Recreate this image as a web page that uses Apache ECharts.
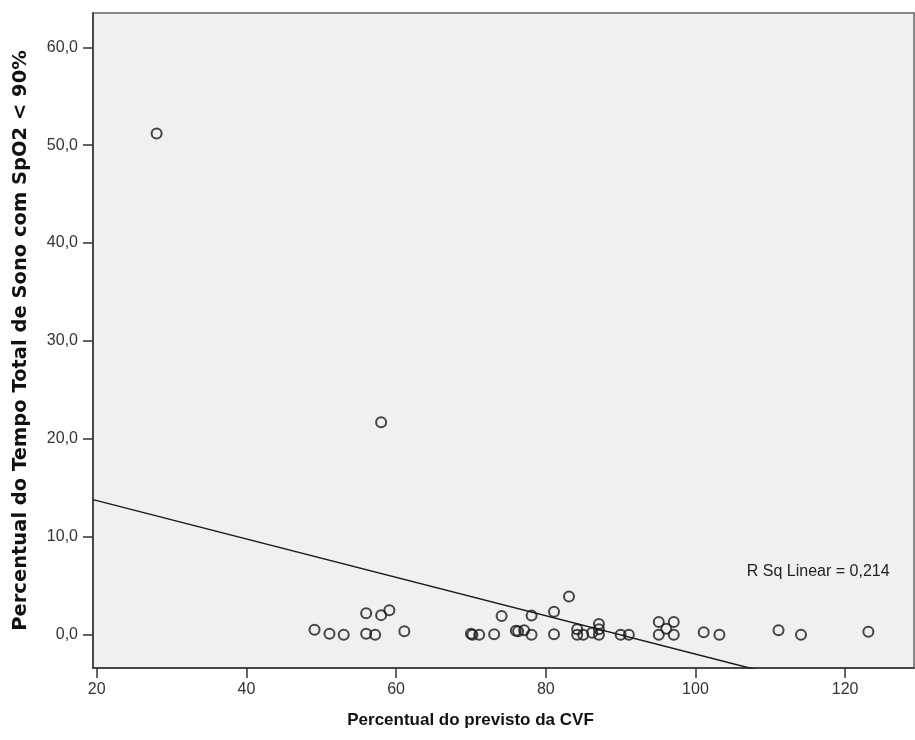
<!DOCTYPE html>
<html>
<head>
<meta charset="utf-8">
<script src="https://cdn.jsdelivr.net/npm/echarts@6/dist/echarts.min.js"></script>
<style>
  html, body { margin: 0; padding: 0; background: #ffffff; }
  #chart { width: 915px; height: 740px; }
</style>
</head>
<body>
<div id="chart"></div>
<script>
// Percentual do previsto da CVF (x) for each patient
const cvf = [
  28.0, 58.0, 49.1, 51.1, 53.0, 56.0, 56.0, 57.2, 58.0, 59.1,
  61.1, 70.0, 70.2, 71.1, 73.1, 74.1, 76.0, 76.3, 77.1, 78.1,
  78.1, 81.1, 81.1, 83.1, 84.2, 84.2, 85.0, 86.2, 87.1, 87.1,
  87.1, 90.0, 91.1, 95.1, 97.1, 96.1, 95.1, 97.1, 101.1, 103.2,
  111.1, 114.1, 123.1
];
// Percentual do tempo total de sono com SpO2 < 90% (y)
const spo2 = [
  51.2, 21.7, 0.5, 0.1, 0.0, 2.2, 0.1, 0.0, 2.0, 2.5,
  0.35, 0.1, 0.0, 0.0, 0.05, 1.9, 0.4, 0.35, 0.45, 0.0,
  1.95, 2.35, 0.05, 3.9, 0.55, 0.0, 0.0, 0.2, 1.1, 0.55,
  0.0, 0.0, 0.0, 1.3, 1.3, 0.6, 0.0, 0.0, 0.25, 0.0,
  0.45, 0.0, 0.3
];
// Linear fit line: y = intercept + slope * x
const fitIntercept = 17.62;
const fitSlope = -0.196;
const fitLabel = 'R Sq Linear = 0,214';

const xTicks = [20, 40, 60, 80, 100, 120];
const yTicks = [0, 10, 20, 30, 40, 50, 60];
const xRange = [19.5, 129.2];
const yRange = [-3.4, 63.5];

const points = cvf.map((x, i) => [x, spo2[i]]);
const fitLine = xRange.map(x => [x, fitIntercept + fitSlope * x]);

const chart = echarts.init(document.getElementById('chart'), null, { renderer: 'canvas' });
const fontFamily = '"Liberation Sans", Arial, sans-serif';

chart.setOption({
  animation: false,
  backgroundColor: '#ffffff',
  grid: {
    left: 93, top: 13, right: 1, bottom: 72,
    show: true,
    backgroundColor: '#f0f0f0',
    borderColor: '#666666',
    borderWidth: 1.5
  },
  xAxis: {
    type: 'value',
    min: xRange[0], max: xRange[1],
    name: 'Percentual do previsto da CVF',
    nameLocation: 'middle',
    nameGap: 44,
    nameTextStyle: {
      fontFamily, fontSize: 17, fontWeight: 'bold', color: '#111',
      padding: [0, 66, 0, 0]
    },
    axisLine: { show: true, onZero: false, lineStyle: { color: '#333', width: 1.5 } },
    axisTick: { show: true, length: 10, lineStyle: { color: '#333', width: 1.5 }, customValues: xTicks },
    axisLabel: { fontFamily, fontSize: 16, color: '#333', margin: 14, customValues: xTicks },
    splitLine: { show: false }
  },
  yAxis: {
    type: 'value',
    min: yRange[0], max: yRange[1],
    name: 'Percentual do Tempo Total de Sono com SpO2 < 90%',
    nameLocation: 'middle',
    nameGap: 62,
    nameRotate: 90,
    nameTextStyle: { fontFamily: '"DejaVu Sans", sans-serif', fontSize: 19.5, fontWeight: 'bold', color: '#111' },
    axisLine: { show: true, lineStyle: { color: '#333', width: 1.5 } },
    axisTick: { show: true, length: 10, lineStyle: { color: '#333', width: 1.5 }, customValues: yTicks },
    axisLabel: {
      fontFamily, fontSize: 16, color: '#333', margin: 15, customValues: yTicks,
      formatter: v => v.toFixed(1).replace('.', ',')
    },
    splitLine: { show: false }
  },
  series: [
    {
      type: 'line',
      data: fitLine,
      showSymbol: false,
      clip: true,
      lineStyle: { color: '#1a1a1a', width: 1.5 },
      z: 2,
      markPoint: {
        symbol: 'rect', symbolSize: 0,
        data: [{ coord: [116.4, 6.4], value: fitLabel }],
        label: { show: true, formatter: fitLabel, fontFamily, fontSize: 16, color: '#222' }
      }
    },
    {
      type: 'scatter',
      data: points,
      symbol: 'circle',
      symbolSize: 10,
      itemStyle: { color: 'rgba(0,0,0,0)', borderColor: '#1a1a1a', borderWidth: 2 },
      z: 3
    }
  ]
});
</script>
</body>
</html>
